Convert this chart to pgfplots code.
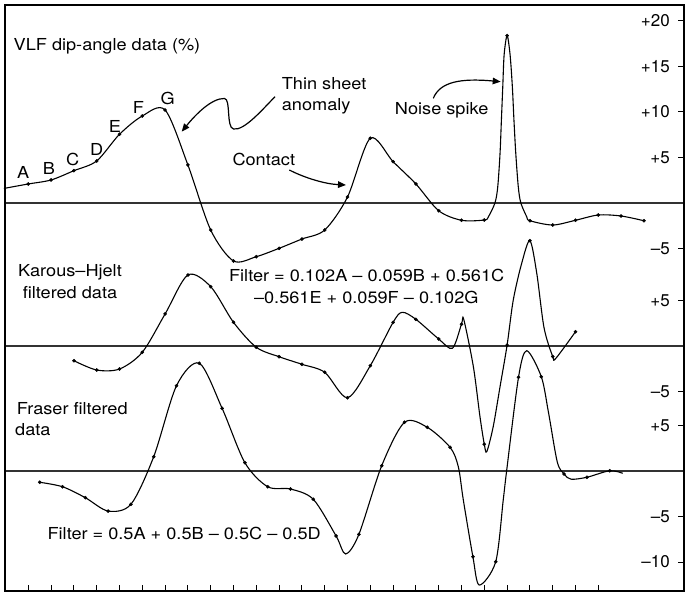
\documentclass[border=0pt]{standalone}
\usepackage{pgfplots}
\pgfplotsset{compat=1.18}
\usepackage{pgfplotstable}
\usepackage{fontspec}
\setmainfont{TeX Gyre Heros}[FakeStretch=1.1]
\newfontfamily\tickfont{TeX Gyre Heros}
\usetikzlibrary{arrows.meta}
\newcommand\lf{\fontsize{16.5}{19}\selectfont}
\newcommand\tf{\fontsize{17}{19}\selectfont}
\tikzset{lab/.style={font=\lf, inner sep=0pt}}

% VLF dip-angle (top), stations 0..27
\pgfplotstableread{
x y
-1.07 1.6
0 2.09
1 2.53
2 3.55
3 4.62
4 7.55
5 9.56
6 10.22
7 4.18
8 -2.97
9 -6.37
10 -5.9
11 -4.98
12 -3.96
13 -2.97
14 0.66
15 7.11
16 4.54
17 2.09
18 -0.85
19 -1.9
20 -1.87
20.18 -1.51
20.47 0.03
20.59 1.79
20.69 5.46
20.75 9.12
20.81 12.78
20.87 16.3
21 18.4
21.13 16.3
21.23 12.78
21.3 9.12
21.38 5.46
21.49 1.79
21.6 0.03
21.86 -1.51
22 -1.95
23 -2.42
24 -1.9
25 -1.32
26 -1.43
27 -1.95
}\topline
\pgfplotstableread{
x y
0 2.09
1 2.53
2 3.55
3 4.62
4 7.55
5 9.56
6 10.22
7 4.18
8 -2.97
9 -6.37
10 -5.9
11 -4.98
12 -3.96
13 -2.97
14 0.66
15 7.11
16 4.54
17 2.09
18 -0.85
19 -1.9
20 -1.87
21 18.4
22 -1.95
23 -2.42
24 -1.9
25 -1.32
26 -1.43
27 -1.95
}\topdots

% Karous-Hjelt filtered
\pgfplotstableread{
x y
2 -1.62
3 -2.64
4 -2.53
5 -0.69
6 3.52
7 7.8
8 6.52
9 2.6
10 -0.14
11 -1.18
12 -2.01
13 -2.89
14 -5.68
15 -2.16
16 2.6
16.4 3.7
17 2.93
18 0.77
18.6 -0.25
19 2.4
19.1 2.9
19.52 -2.27
19.81 -7.77
20 -10.8
20.11 -11.6
20.39 -8.87
20.69 -4.47
21 0.1
21.27 5.05
21.64 9.09
22 11.57
22.3 8.0
22.62 2.0
23 -1.15
23.14 -1.35
24 1.57
}\midline
\pgfplotstableread{
x y
2 -1.62
3 -2.64
4 -2.53
5 -0.69
6 3.52
7 7.8
8 6.52
9 2.6
10 -0.14
11 -1.18
12 -2.01
13 -2.89
14 -5.68
15 -2.16
16 2.6
17 2.93
18 0.77
19 2.4
20 -10.8
21 0.1
22 11.57
23 -1.15
24 1.57
}\middots

% Fraser filtered (plotted between stations)
\pgfplotstableread{
x y
0.5 -1.24
1.5 -1.73
2.5 -2.93
3.5 -4.4
4.5 -3.66
5.5 1.57
6.5 9.37
7.5 11.84
8.5 6.89
9.5 0.91
10.5 -1.73
11.5 -1.98
12.5 -3.11
13.5 -7.14
13.92 -9.12
14.5 -6.96
15.5 0.58
16.5 5.35
17.5 4.8
18.5 2.6
18.86 0.47
19.08 -3.19
19.5 -9.42
19.78 -12.53
20.5 -9.97
20.83 -3.19
20.98 0.03
21.5 10.3
21.86 13.22
22.5 10.36
22.81 6.5
23.2 1.0
23.5 -0.33
23.8 -0.9
24.5 -0.69
25.5 0.03
26.07 -0.25
}\botline
\pgfplotstableread{
x y
0.5 -1.24
1.5 -1.73
2.5 -2.93
3.5 -4.4
4.5 -3.66
5.5 1.57
6.5 9.37
7.5 11.84
8.5 6.89
9.5 0.91
10.5 -1.73
11.5 -1.98
12.5 -3.11
13.5 -7.14
14.5 -6.96
15.5 0.58
16.5 5.35
17.5 4.8
18.5 2.6
19.5 -9.42
20.5 -9.97
21.5 10.3
22.5 10.36
23.5 -0.33
24.5 -0.69
25.5 0.03
}\botdots

\begin{document}
\begin{tikzpicture}
\begin{axis}[
  scale only axis, width=679pt, height=586pt,
  xmin=-1.02193, xmax=28.75877, ymin=-42.63736, ymax=21.75824,
  xtick={0,...,25}, xticklabels={}, xtick pos=lower,
  ytick={-39.451,-34.451,-24.451,-20.714,-10.714,-5,5,10,15,20},
  yticklabels={\textendash10,\textendash5,+5,\textendash5,+5,\textendash5,+5,+10,+15,+20},
  ytick pos=upper, yticklabel pos=upper,
  tick align=inside, major tick length=6pt,
  tick style={line width=1pt, black},
  yticklabel style={font=\tickfont\tf, anchor=east, inner sep=0pt, xshift=-14pt},
  clip=false,
]
% zero lines
\addplot[black!80, line width=1.3pt, forget plot] coordinates {(-1.02193,0) (28.75877,0)};
\addplot[black!80, line width=1.3pt, forget plot] coordinates {(-1.02193,-15.714) (28.75877,-15.714)};
\addplot[black!80, line width=1.3pt, forget plot] coordinates {(-1.02193,-29.451) (28.75877,-29.451)};
% curves
\addplot[black, line width=1.1pt, smooth, tension=0.5] table[x=x,y=y] {\topline};
\addplot[black, only marks, mark=*, mark size=1.6pt] table[x=x,y=y] {\topdots};
\addplot[black, line width=1.1pt, smooth, tension=0.5] table[x=x,y expr=\thisrow{y}-15.714] {\midline};
\addplot[black, only marks, mark=*, mark size=1.6pt] table[x=x,y expr=\thisrow{y}-15.714] {\middots};
\addplot[black, line width=1.1pt, smooth, tension=0.5] table[x=x,y expr=\thisrow{y}-29.451] {\botline};
\addplot[black, only marks, mark=*, mark size=1.6pt] table[x=x,y expr=\thisrow{y}-29.451] {\botdots};
% frame
\draw[line width=2.5pt] (rel axis cs:0,0) rectangle (rel axis cs:1,1);
% annotations in picture (pixel) coordinates
\begin{scope}[shift={(axis cs:-1.24123,22.30769)}, x=1pt, y=-1pt]
  \node[lab, anchor=base] at (107,50.7) {VLF dip-angle data (\%)};
  \node[lab, anchor=base] at (23.3,178.3) {A};
  \node[lab, anchor=base] at (49,175) {B};
  \node[lab, anchor=base] at (72.7,165.7) {C};
  \node[lab, anchor=base] at (96.7,155.7) {D};
  \node[lab, anchor=base] at (115,132.7) {E};
  \node[lab, anchor=base] at (138.3,113.3) {F};
  \node[lab, anchor=base] at (167.7,105) {G};
  \node[lab, anchor=base west] at (281.7,89.3) {Thin sheet};
  \node[lab, anchor=base west] at (281.7,110.7) {anomaly};
  \node[lab, anchor=base] at (263.8,165.3) {Contact};
  \node[lab, anchor=base] at (441.7,115) {Noise spike};
  \node[lab, anchor=base] at (70,276.7) {Karous\textendash Hjelt};
  \node[lab, anchor=base] at (70,298.3) {filtered data};
  \node[lab, anchor=base] at (366.7,281.7) {Filter = 0.102A \textendash\ 0.059B + 0.561C};
  \node[lab, anchor=base] at (366.3,304) {\textendash0.561E + 0.059F \textendash\ 0.102G};
  \node[lab, anchor=base west] at (16.7,415) {Fraser filtered};
  \node[lab, anchor=base west] at (15,436) {data};
  \node[lab, anchor=base] at (184.2,539.3) {Filter = 0.5A + 0.5B \textendash\ 0.5C \textendash\ 0.5D};
  % arrows
  \draw[line width=1.2pt, -{Triangle[length=8pt,width=6.5pt]}]
    (275,96.7) .. controls (262,110) and (244,131) .. (233.5,129)
    .. controls (226,127.5) and (231,99) .. (224.5,98.5)
    .. controls (212,98) and (196,114) .. (181.7,131.7);
  \draw[line width=1.2pt, -{Triangle[length=8pt,width=6.5pt]}]
    (289.3,170) .. controls (305,178) and (325,184) .. (346,185);
  \draw[line width=1.2pt, -{Triangle[length=8pt,width=6.5pt]}]
    (433.3,98.3) .. controls (440,82) and (460,78) .. (500.7,81.7);
\end{scope}
\end{axis}
\path ([shift={(-5pt,-3pt)}]current axis.south west) rectangle ([shift={(3pt,5pt)}]current axis.north east);
\end{tikzpicture}
\end{document}
